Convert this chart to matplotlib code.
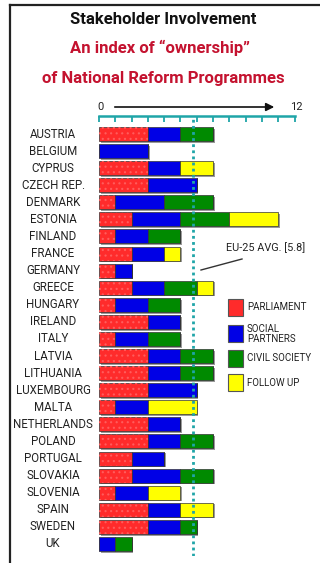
import matplotlib
matplotlib.use("Agg")
import matplotlib.pyplot as plt
from matplotlib.lines import Line2D
from matplotlib.patches import Rectangle, FancyArrowPatch
import numpy as np

countries = ["AUSTRIA", "BELGIUM", "CYPRUS", "CZECH REP.", "DENMARK", "ESTONIA",
             "FINLAND", "FRANCE", "GERMANY", "GREECE", "HUNGARY", "IRELAND",
             "ITALY", "LATVIA", "LITHUANIA", "LUXEMBOURG", "MALTA", "NETHERLANDS",
             "POLAND", "PORTUGAL", "SLOVAKIA", "SLOVENIA", "SPAIN", "SWEDEN", "UK"]
parliament = [3, 0, 3, 3, 1, 2, 1, 2, 1, 2, 1, 3, 1, 3, 3, 3, 1, 3, 3, 2, 2, 1, 3, 3, 0]
social_partners = [2, 3, 2, 3, 3, 3, 2, 2, 1, 2, 2, 2, 2, 2, 2, 3, 2, 2, 2, 2, 3, 2, 2, 2, 1]
civil_society = [2, 0, 0, 0, 3, 3, 2, 0, 0, 2, 2, 0, 2, 2, 2, 0, 0, 0, 2, 0, 2, 0, 0, 1, 1]
follow_up = [0, 0, 2, 0, 0, 3, 0, 1, 0, 1, 0, 0, 0, 0, 0, 0, 3, 0, 0, 0, 0, 2, 2, 0, 0]
eu_average = 5.8
x_max = 12

series = [
    ("PARLIAMENT", parliament, "#ff2b2b"),
    ("SOCIAL\nPARTNERS", social_partners, "#0000e6"),
    ("CIVIL SOCIETY", civil_society, "#008a00"),
    ("FOLLOW UP", follow_up, "#ffff00"),
]

plt.rcParams["font.family"] = ["Roboto", "DejaVu Sans"]
plt.rcParams["hatch.linewidth"] = 0.8

W, H = 320, 563
fig = plt.figure(figsize=(W / 100, H / 100), dpi=100)
fig.patch.set_facecolor("white")

# pixel helpers (origin top-left)
def fx(px):
    return px / W

def fy(py):
    return 1 - py / H

# frame lines (top and left)
fig.add_artist(Line2D([fx(10), fx(320)], [fy(5), fy(5)], color="#222222", lw=1.6))
fig.add_artist(Line2D([fx(10), fx(10)], [fy(5), fy(563)], color="#222222", lw=1.6))

# titles
fig.text(fx(163), fy(20), "Stakeholder Involvement", ha="center", va="center",
         fontsize=12, color="#111111", fontweight="bold")
red_title = "#c4122f"
fig.text(fx(160), fy(48), "An index of \u201cownership\u201d", ha="center", va="center",
         fontsize=12, color=red_title, fontweight="bold")
fig.text(fx(163), fy(78), "of National Reform Programmes", ha="center", va="center",
         fontsize=12, color=red_title, fontweight="bold")

# main axes: x 0..12 spans px 99..294, rows centred from y=134 with pitch 17.08
x0_px, x1_px = 99, 294.5
top_px, bot_px = 116, 556
row0, pitch = 134, 17.08
ax = fig.add_axes([fx(x0_px), fy(bot_px), (x1_px - x0_px) / W, (bot_px - top_px) / H])
ax.set_xlim(0, x_max)
ax.set_ylim((bot_px - row0) / pitch, (top_px - row0) / pitch)
ax.patch.set_alpha(0)
for s in ["left", "right", "bottom"]:
    ax.spines[s].set_visible(False)
teal = "#1fa5a8"
ax.spines["top"].set_color(teal)
ax.spines["top"].set_linewidth(1.8)
ax.xaxis.tick_top()
ax.set_xticks(np.arange(0, x_max + 1, 1))
ax.tick_params(axis="x", direction="in", length=4, width=1.3, color=teal,
               labeltop=False, labelbottom=False, bottom=False)
ax.set_yticks([])

y = np.arange(len(countries))
bh = 0.82
totals = np.sum([s[1] for s in series], axis=0)

# drop shadow
ax.barh(y + 0.1, totals, left=0.1, height=bh, color="#9a9a9a", lw=0, zorder=1)

left = np.zeros(len(countries))
for name, vals, col in series:
    vals = np.array(vals, dtype=float)
    ax.barh(y, vals, left=left, height=bh, color=col, edgecolor="#333333",
            lw=0.5, zorder=2)
    if name == "PARLIAMENT":
        ax.barh(y, vals, left=left, height=bh, color="none", edgecolor="#ff5c5c",
                lw=0, hatch="...", zorder=3)
    left += vals

# EU average line
ax.axvline(eu_average, color=teal, lw=2.0, ls=(0, (1, 1.2)), zorder=4)

# country labels
for i, c in enumerate(countries):
    fig.text(fx(53), fy(row0 + i * pitch), c, ha="center", va="center",
             fontsize=8.3, color="#222222")

# arrow 0 -> 12
fig.text(fx(100), fy(107), "0", ha="center", va="center", fontsize=8, color="#222222")
fig.text(fx(296), fy(107), "12", ha="center", va="center", fontsize=8, color="#222222")
fig.add_artist(FancyArrowPatch((fx(112), fy(107)), (fx(277), fy(107)),
                               transform=fig.transFigure, arrowstyle="-|>",
                               mutation_scale=12, color="#111111", lw=1.2))

# annotation for average
fig.text(fx(266), fy(248), "EU-25 AVG. [5.8]", ha="center", va="center",
         fontsize=7.8, color="#222222")
fig.add_artist(Line2D([fx(201), fx(242)], [fy(270), fy(259)], color="#333333", lw=1.0))

# legend
legend_rows = [307.5, 333.5, 358, 382.5]
for (name, vals, col), cy in zip(series, legend_rows):
    fig.add_artist(Rectangle((fx(228), fy(cy + 8.5)), 15 / W, 17 / H,
                             transform=fig.transFigure, facecolor=col,
                             edgecolor="#555555", lw=0.8))
    fig.text(fx(247), fy(cy), name, ha="left", va="center", fontsize=7,
             color="#222222", linespacing=1.0)

fig.savefig("out.png", dpi=100)
